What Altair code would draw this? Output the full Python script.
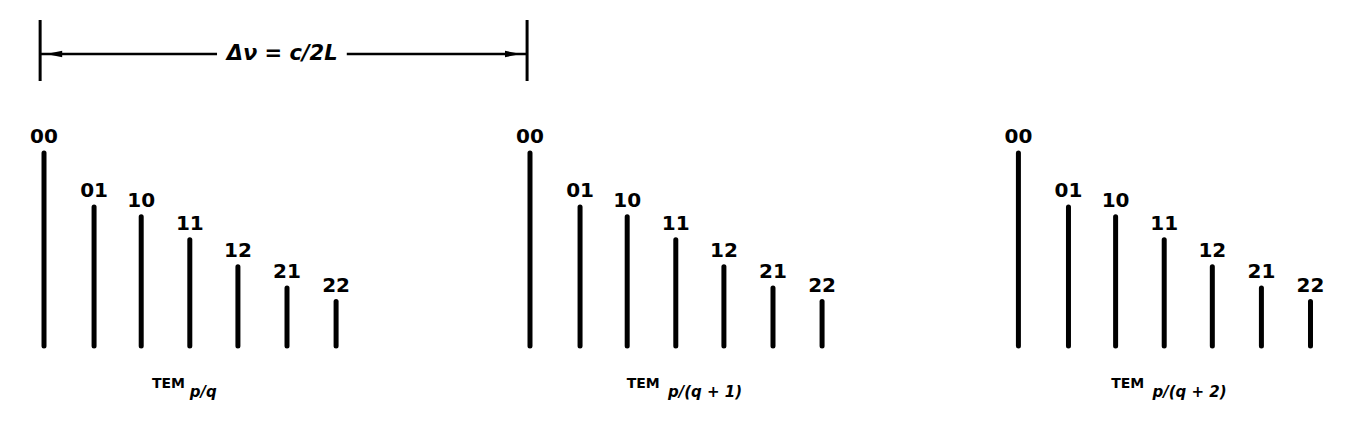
import altair as alt
import pandas as pd

# ---- data (x in units of c/2L, y = relative intensity) ----
modes = ["00", "01", "10", "11", "12", "21", "22"]
mode_offsets = [0.0, 0.103, 0.200, 0.300, 0.399, 0.500, 0.601]
intensities = [1.0, 0.72, 0.67, 0.55, 0.41, 0.30, 0.23]
group_positions = [0.0, 1.0, 2.005]
group_subscripts = ["p/q", "p/(q + 1)", "p/(q + 2)"]
tem_label_x = [0.290, 1.267, 2.264]
sub_label_x = [0.300, 1.284, 2.281]
tem_label_y = -0.218
sub_label_y = -0.265

bracket_x = [-0.008, 0.994]
bracket_y = [1.373, 1.689]
bracket_line_y = 1.513
bracket_gap = [0.356, 0.623]
bracket_text = "Δν = c/2L"
bracket_text_x = 0.490

XDOM = [-0.0741, 2.6770]
YDOM = [-0.3886, 1.7513]

rows = []
for g in group_positions:
    for m, off, h in zip(modes, mode_offsets, intensities):
        rows.append({"x": g + off, "base": 0.0, "y": h, "mode": m})
bars_df = pd.DataFrame(rows)

xs = alt.Scale(domain=XDOM, nice=False, zero=False)
ys = alt.Scale(domain=YDOM, nice=False, zero=False)

def X(f="x"):
    return alt.X(f"{f}:Q", scale=xs, axis=None)

def Y(f="y"):
    return alt.Y(f"{f}:Q", scale=ys, axis=None)

bars = alt.Chart(bars_df).mark_rule(strokeWidth=5, strokeCap="round", color="black").encode(
    x=X(), y=Y("base"), y2="y:Q"
)

mode_labels = alt.Chart(bars_df).mark_text(
    font="DejaVu Sans", fontSize=20, fontWeight="bold", baseline="alphabetic",
    align="center", dy=-10, color="black"
).encode(x=X(), y=Y(), text="mode:N")

vert_df = pd.DataFrame({"x": bracket_x, "y": [bracket_y[0]] * 2, "y2": [bracket_y[1]] * 2})
verticals = alt.Chart(vert_df).mark_rule(strokeWidth=3, color="black").encode(
    x=X(), y=Y(), y2="y2:Q"
)

horiz_df = pd.DataFrame({
    "x": [bracket_x[0], bracket_gap[1]],
    "x2": [bracket_gap[0], bracket_x[1]],
    "y": [bracket_line_y] * 2,
})
horizontals = alt.Chart(horiz_df).mark_rule(strokeWidth=2.5, color="black").encode(
    x=X(), x2="x2:Q", y=Y()
)

left_arrow = alt.Chart(pd.DataFrame({"x": [0.021], "y": [bracket_line_y]})).mark_point(
    shape="M-1,0L1,-0.4L1,0.4Z", filled=True, size=256, color="black", opacity=1
).encode(x=X(), y=Y())
right_arrow = alt.Chart(pd.DataFrame({"x": [0.965], "y": [bracket_line_y]})).mark_point(
    shape="M1,0L-1,-0.4L-1,0.4Z", filled=True, size=256, color="black", opacity=1
).encode(x=X(), y=Y())

btext = alt.Chart(pd.DataFrame({"x": [bracket_text_x], "y": [bracket_line_y], "t": [bracket_text]})).mark_text(
    font="DejaVu Sans", fontSize=21, fontWeight="bold", fontStyle="italic",
    align="center", baseline="middle", color="black"
).encode(x=X(), y=Y(), text="t:N")

tem_df = pd.DataFrame({"x": tem_label_x, "y": [tem_label_y] * 3, "t": ["TEM"] * 3})
tem = alt.Chart(tem_df).mark_text(
    font="DejaVu Sans", fontSize=14, fontWeight="bold", align="right",
    baseline="alphabetic", color="black"
).encode(x=X(), y=Y(), text="t:N")

sub_df = pd.DataFrame({"x": sub_label_x, "y": [sub_label_y] * 3, "t": group_subscripts})
sub = alt.Chart(sub_df).mark_text(
    font="DejaVu Sans", fontSize=15, fontWeight="bold", fontStyle="italic",
    align="left", baseline="alphabetic", color="black"
).encode(x=X(), y=Y(), text="t:N")

chart = alt.layer(
    bars, mode_labels, verticals, horizontals, left_arrow, right_arrow, btext, tem, sub
).properties(
    width=1337, height=413, padding=0, autosize=alt.AutoSizeParams(type="none"),
    background="white"
).configure_view(stroke=None)

chart.save("out.html", embed_options={"renderer": "svg", "actions": False})
